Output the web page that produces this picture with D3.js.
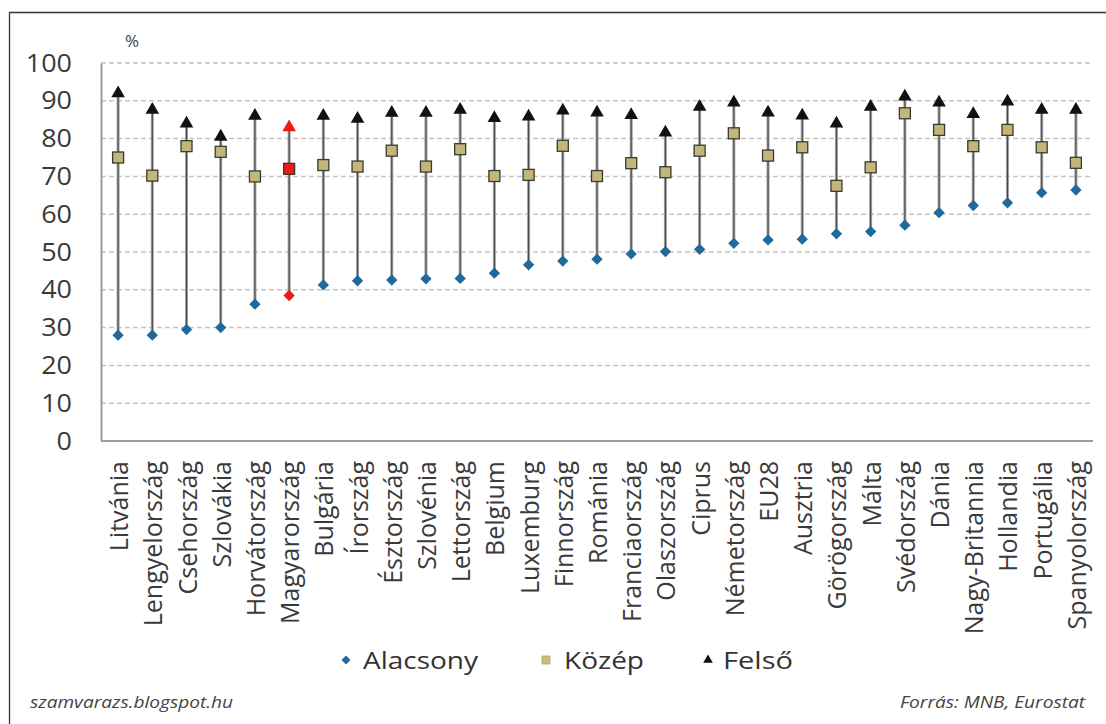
<!DOCTYPE html>
<html>
<head>
<meta charset="utf-8">
<script src="https://cdn.jsdelivr.net/npm/d3@7"></script>
<style>
  html, body { margin: 0; padding: 0; background: #fff; }
  svg { display: block; }
</style>
</head>
<body>
<svg id="chart" width="1106" height="724"></svg>
<script>
const categories = ["Litvánia","Lengyelország","Csehország","Szlovákia","Horvátország","Magyarország","Bulgária","Írország","Észtország","Szlovénia","Lettország","Belgium","Luxemburg","Finnország","Románia","Franciaország","Olaszország","Ciprus","Németország","EU28","Ausztria","Görögország","Málta","Svédország","Dánia","Nagy-Britannia","Hollandia","Portugália","Spanyolország"];
const alacsony = [28,28,29.5,30,36.2,38.5,41.3,42.4,42.6,42.9,43,44.4,46.6,47.6,48.1,49.5,50.1,50.7,52.3,53.2,53.4,54.8,55.4,57.1,60.4,62.3,63,65.7,66.4];
const kozep = [75,70.2,78,76.5,70,72,73,72.6,76.8,72.6,77.2,70.1,70.4,78.1,70.1,73.5,71.1,76.8,81.4,75.5,77.7,67.5,72.4,86.7,82.3,78,82.3,77.7,73.6];
const felso = [92,87.6,84,80.5,86,83,86,85.2,86.8,86.8,87.6,85.4,85.8,87.4,86.9,86.2,81.6,88.4,89.5,86.9,86.1,84,88.4,91.1,89.5,86.5,89.8,87.6,87.6];
const yTicks = [0,10,20,30,40,50,60,70,80,90,100];
const highlight = "Magyarország";
const seriesNames = ["Alacsony","Közép","Felső"];

const svg = d3.select("#chart");
const font = "'Open Sans', 'Noto Sans', sans-serif";

// frame
svg.append("path").attr("d","M9.5,730 L9.5,12.5 L1110,12.5").attr("fill","none").attr("stroke","#333").attr("stroke-width",1.3);

const pLeft = 101, pRight = 1093, pTop = 63, pBottom = 441;
const x = d3.scaleBand().domain(categories).range([pLeft, pRight]).padding(0);
const y = d3.scaleLinear().domain([0,100]).range([pBottom, pTop]);

// gridlines
svg.append("g").selectAll("line").data(yTicks.filter(d=>d>0)).join("line")
  .attr("x1", pLeft).attr("x2", pRight)
  .attr("y1", d=>y(d)).attr("y2", d=>y(d))
  .attr("stroke", "#c4c4c4").attr("stroke-width", 1.5).attr("stroke-dasharray","5,3");

// y axis
const yAxis = d3.axisLeft(y).tickValues(yTicks).tickSize(0).tickPadding(29);
const gy = svg.append("g").attr("transform",`translate(${pLeft},0)`).call(yAxis);
gy.select(".domain").attr("stroke","#9a9a9a").attr("stroke-width",2);
gy.selectAll("text").attr("font-family",font).attr("font-size",25).attr("fill","#3a3a3a")
  .attr("transform","scale(1.08,1)").attr("x", -29/1.08);

// x axis
const xAxis = d3.axisBottom(x).tickSize(0).tickPadding(0);
const gx = svg.append("g").attr("transform",`translate(0,${pBottom})`).call(xAxis);
gx.select(".domain").attr("stroke","#9a9a9a").attr("stroke-width",2).attr("d",`M${pLeft},0H${pRight}`);
gx.selectAll("text")
  .attr("font-family",font).attr("font-size",25).attr("fill","#3a3a3a")
  .attr("text-anchor","end")
  .attr("transform","rotate(-90)")
  .attr("x",-20).attr("y",1).attr("dy","0.36em");

// % label
svg.append("text").attr("x",132).attr("y",47).attr("text-anchor","middle")
  .attr("font-family",font).attr("font-size",17).attr("fill","#444").text("%");

// range lines
const cx = d => x(d) + x.bandwidth()/2;
svg.append("g").selectAll("line").data(categories).join("line")
  .attr("x1", cx).attr("x2", cx)
  .attr("y1", (d,i)=>y(alacsony[i])).attr("y2", (d,i)=>y(felso[i]))
  .attr("stroke","#a0a0a0").attr("stroke-width",3);
svg.append("g").selectAll("line").data(categories).join("line")
  .attr("x1", cx).attr("x2", cx)
  .attr("y1", (d,i)=>y(alacsony[i])).attr("y2", (d,i)=>y(felso[i]))
  .attr("stroke","#444").attr("stroke-width",1);

const red = "#f01818";
// triangles
svg.append("g").selectAll("path").data(categories).join("path")
  .attr("d", d3.symbol(d3.symbolTriangle, 80)())
  .attr("transform",(d,i)=>`translate(${cx(d)},${y(felso[i])})`)
  .attr("fill", d=> d===highlight ? red : "#111");
// squares
svg.append("g").selectAll("rect").data(categories).join("rect")
  .attr("x", d=>cx(d)-5.5).attr("y",(d,i)=>y(kozep[i])-5.5)
  .attr("width",11).attr("height",11)
  .attr("fill", d=> d===highlight ? red : "#c2b67c")
  .attr("stroke","#3b3b2a").attr("stroke-width",1.3);
// diamonds
svg.append("g").selectAll("path").data(categories).join("path")
  .attr("d", d3.symbol(d3.symbolSquare, 64)())
  .attr("transform",(d,i)=>`translate(${cx(d)},${y(alacsony[i])}) rotate(45)`)
  .attr("fill", d=> d===highlight ? red : "#1f6a9a");

// legend
const lg = svg.append("g");
const legendY = 660;
const legendItems = [
  {name: seriesNames[0], sx: 346, tx: 363, w: 115},
  {name: seriesNames[1], sx: 546, tx: 564, w: 80},
  {name: seriesNames[2], sx: 708, tx: 723, w: 70}
];
lg.append("path").attr("d", d3.symbol(d3.symbolSquare, 40)())
  .attr("transform",`translate(${legendItems[0].sx},${legendY}) rotate(45)`).attr("fill","#1f6a9a");
lg.append("rect").attr("x",legendItems[1].sx-4).attr("y",legendY-4).attr("width",8).attr("height",8)
  .attr("fill","#c9bd7c").attr("stroke","#b0a570").attr("stroke-width",0.8);
lg.append("path").attr("d", d3.symbol(d3.symbolTriangle, 40)())
  .attr("transform",`translate(${legendItems[2].sx},${legendY})`).attr("fill","#111");
lg.selectAll("text").data(legendItems).join("text")
  .attr("x", d=>d.tx).attr("y", legendY).attr("dy","0.36em")
  .attr("font-family",font).attr("font-size",24).attr("fill","#333")
  .attr("textLength", d=>d.w).attr("lengthAdjust","spacingAndGlyphs").text(d=>d.name);

// footer
svg.append("text").attr("x",30).attr("y",708).attr("font-family",font).attr("font-style","italic")
  .attr("font-size",16).attr("fill","#444").attr("textLength",203).attr("lengthAdjust","spacingAndGlyphs")
  .text("szamvarazs.blogspot.hu");
svg.append("text").attr("x",900).attr("y",708).attr("font-family",font).attr("font-style","italic")
  .attr("font-size",16).attr("fill","#444").attr("textLength",185).attr("lengthAdjust","spacingAndGlyphs")
  .text("Forrás: MNB, Eurostat");
</script>
</body>
</html>
